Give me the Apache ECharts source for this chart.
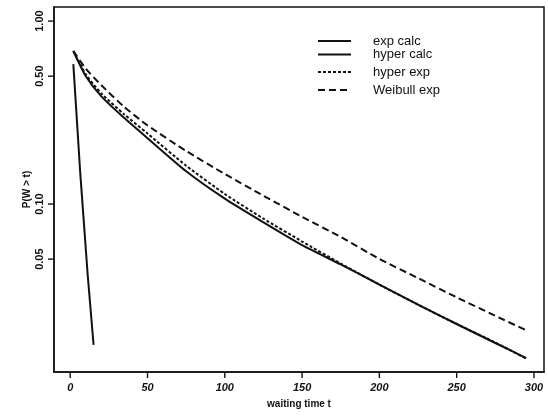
<!DOCTYPE html>
<html>
<head>
<meta charset="UTF-8" />
<title>P(W > t)</title>
<script src="https://cdn.jsdelivr.net/npm/echarts@6/dist/echarts.min.js"></script>
<style>
  html, body { margin:0; padding:0; width:100%; height:100%; background:#fff; overflow:hidden; }
  #chart { position:absolute; left:0; top:0; width:548px; height:417px; }
</style>
</head>
<body>
<div id="chart"></div>
<script>
// ---- data ----
const expCalcT   = [2, 6.5, 11.2, 15.1];
const expCalcP   = [0.582, 0.147, 0.042, 0.017];

const tGrid      = [2, 10, 20, 35, 50, 75, 100, 125, 150, 175, 200, 225, 250, 275, 295];
const hyperCalcP = [0.686, 0.501, 0.389, 0.295, 0.229, 0.151, 0.107, 0.0794, 0.0596, 0.0468, 0.0363, 0.0282, 0.0221, 0.0174, 0.0144];
const hyperExpP  = [0.686, 0.513, 0.403, 0.309, 0.243, 0.162, 0.1135, 0.0832, 0.0624, 0.0473, 0.0363, 0.0282, 0.0221, 0.0175, 0.0143];
const weibullP   = [0.686, 0.550, 0.447, 0.339, 0.269, 0.195, 0.146, 0.111, 0.0851, 0.0661, 0.0501, 0.0394, 0.0309, 0.0245, 0.0204];

const seriesNames = ['exp calc', 'hyper calc', 'hyper exp', 'Weibull exp'];
const xTicks = [0, 50, 100, 150, 200, 250, 300];
const yTicks = [0.05, 0.1, 0.5, 1];
const yTickLabels = ['0.05', '0.10', '0.50', '1.00'];

// axis extents (R style padding)
const tMin = -10.5, tMax = 306.5;
const pMin = 0.01208, pMax = 1.194;

// y is drawn on a log10 scale
const sy = p => Math.log10(p);
const pts = (ts, ps) => ts.map((t, i) => [t, sy(ps[i])]);

const ink = '#111';
const font = 'Liberation Sans, Arial, Helvetica, sans-serif';

const legendTops = [34, 47.5, 65, 83];

// tick mark drawn as a small filled box in the label's rich text
const tickRich = { width: 1.4, height: 6, lineHeight: 6, fontSize: 6, backgroundColor: ink, color: ink };

const chart = echarts.init(document.getElementById('chart'));
chart.setOption({
  backgroundColor: '#fff',
  animation: false,
  grid: { left: 54, right: 4, top: 7, bottom: 45, show: true, borderColor: ink, borderWidth: 1.5, backgroundColor: 'transparent' },
  legend: seriesNames.map((n, i) => ({
    data: [n],
    left: 317, top: legendTops[i],
    padding: 0,
    itemWidth: 33, itemHeight: 14,
    itemStyle: { opacity: 0 },
    textStyle: { fontFamily: font, fontSize: 13, color: ink, padding: [0, 0, 0, 17], lineHeight: 14 },
    selectedMode: false
  })),
  xAxis: {
    type: 'value', min: tMin, max: tMax,
    name: 'waiting time t', nameLocation: 'middle', nameGap: 27, nameMoveOverlap: false,
    nameTextStyle: { fontFamily: font, fontSize: 10, fontWeight: 'bold', color: ink },
    axisLine: { show: true, onZero: false, lineStyle: { color: ink, width: 1.5 } },
    splitLine: { show: false },
    axisTick: { show: false },
    axisLabel: {
      customValues: xTicks, margin: 0,
      formatter: v => '{t| }\n{v|' + v + '}',
      rich: {
        t: tickRich,
        v: { fontFamily: font, fontSize: 11, fontWeight: 'bold', fontStyle: 'italic', color: ink, lineHeight: 14, padding: [5, 0, 0, 0] }
      }
    }
  },
  yAxis: {
    type: 'value', min: sy(pMin), max: sy(pMax),
    name: 'P(W > t)', nameLocation: 'middle', nameGap: 22, nameRotate: 90, nameMoveOverlap: false,
    nameTextStyle: { fontFamily: font, fontSize: 10, fontWeight: 'bold', color: ink },
    axisLine: { show: true, onZero: false, lineStyle: { color: ink, width: 1.5 } },
    splitLine: { show: false },
    axisTick: { show: false },
    axisLabel: {
      customValues: yTicks.map(sy), rotate: 90, margin: 0,
      formatter: v => {
        const i = yTicks.findIndex(t => Math.abs(sy(t) - v) < 1e-6);
        return i >= 0 ? '{v|' + yTickLabels[i] + '}\n{t| }' : '';
      },
      rich: {
        t: tickRich,
        v: { fontFamily: font, fontSize: 11, fontWeight: 'bold', color: ink, lineHeight: 12, padding: [0, 0, 4, 0] }
      }
    }
  },
  series: [
    { name: seriesNames[0], type: 'line', data: pts(expCalcT, expCalcP), symbol: 'none', lineStyle: { color: ink, width: 2, type: 'solid' }, itemStyle: { color: ink } },
    { name: seriesNames[1], type: 'line', data: pts(tGrid, hyperCalcP), symbol: 'none', smooth: 0.2, lineStyle: { color: ink, width: 2, type: 'solid' }, itemStyle: { color: ink } },
    { name: seriesNames[2], type: 'line', data: pts(tGrid, hyperExpP), symbol: 'none', smooth: 0.2, lineStyle: { color: ink, width: 2, type: [3, 2] }, itemStyle: { color: ink } },
    { name: seriesNames[3], type: 'line', data: pts(tGrid, weibullP), symbol: 'none', smooth: 0.2, lineStyle: { color: ink, width: 2, type: [7, 4] }, itemStyle: { color: ink } }
  ]
});
</script>
</body>
</html>
